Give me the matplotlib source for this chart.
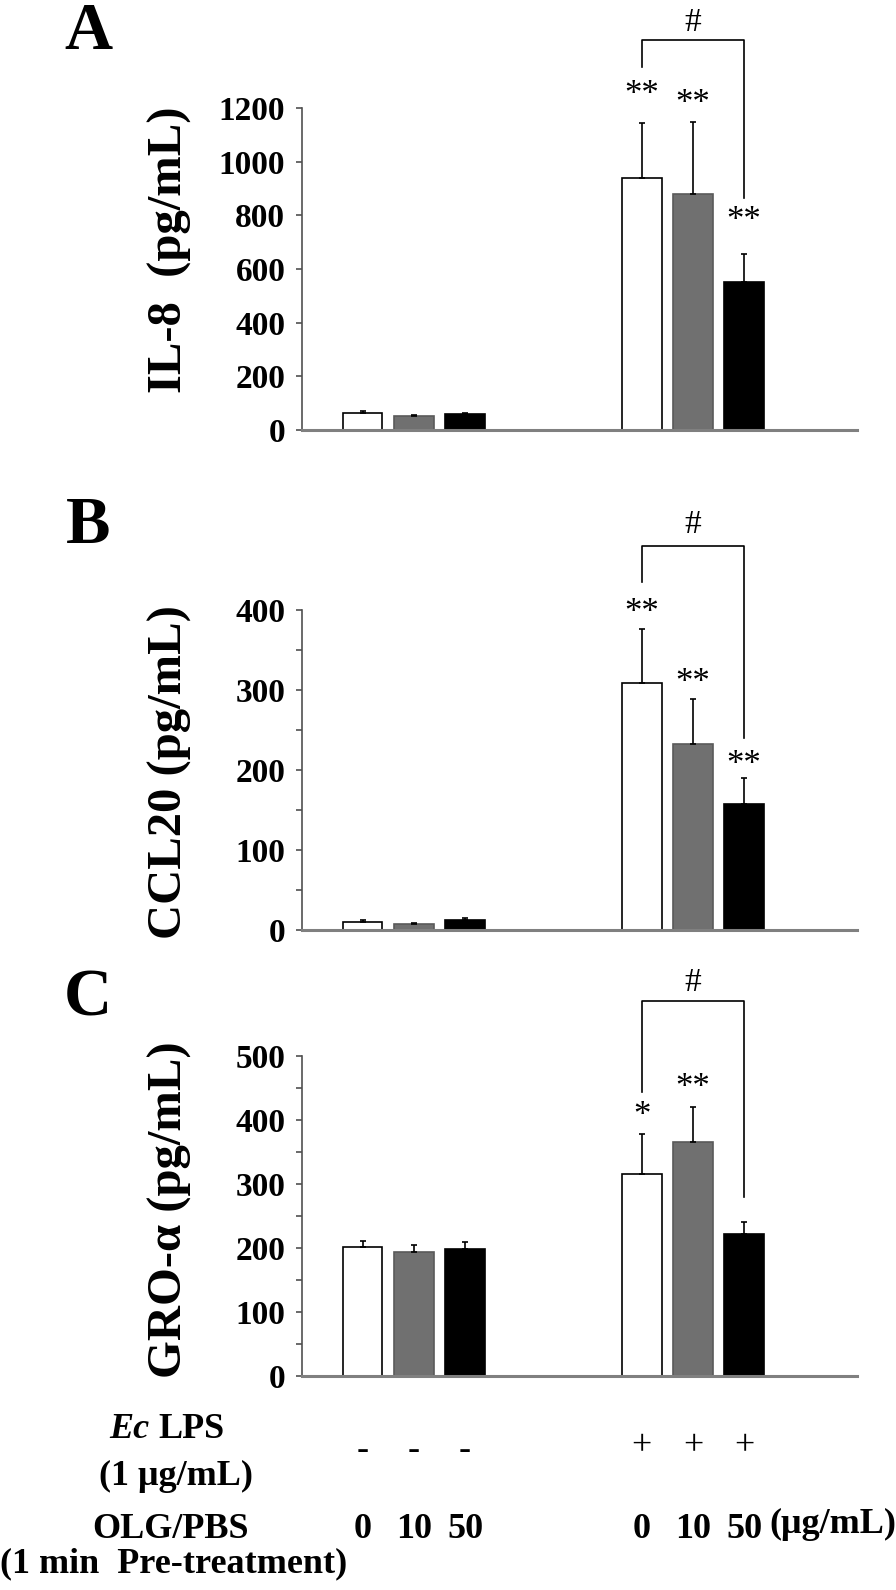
import numpy as np
import matplotlib
matplotlib.use("Agg")
import matplotlib.pyplot as plt
from matplotlib.ticker import MultipleLocator

plt.rcParams['font.family'] = ['Liberation Serif', 'DejaVu Serif']

# values: mean and upper error (SEM)
il8_mean = [62, 52, 60, 940, 880, 553]
il8_sem = [10, 4, 4, 203, 268, 102]
ccl20_mean = [10, 7, 12, 309, 233, 158]
ccl20_sem = [2, 2, 3, 67, 56, 32]
gro_mean = [202, 193, 198, 315, 366, 222]
gro_sem = [9, 11, 12, 63, 55, 18]

il8_stars = ['', '', '', '**', '**', '**']
ccl20_stars = ['', '', '', '**', '**', '**']
gro_stars = ['', '', '', '*', '**', '']

lps_signs = ['-', '-', '-', '+', '+', '+']
olg_doses = ['0', '10', '50', '0', '10', '50']

bar_colors = ['white', '#707070', 'black'] * 2
bar_edges = ['black', '#5a5a5a', 'black'] * 2

x = np.array([0, 1, 2, 5.46, 6.46, 7.46])
width = 0.77

W, H = 896, 1590
fig = plt.figure(figsize=(W / 100, H / 100), dpi=100)


def rect(top_px, bottom_px, left_px=302, right_px=857):
    return [left_px / W, 1 - bottom_px / H, (right_px - left_px) / W, (bottom_px - top_px) / H]


panels = [
    dict(rect=rect(108, 430), mean=il8_mean, sem=il8_sem, stars=il8_stars,
         star_y=[None, None, None, 1286, 1252, 816], ymax=1200, major=200, minor=None,
         ylabel='IL-8  (pg/mL)', label_y=250, letter='A', letter_y=49,
         bracket=(1453, 1354, 865), hash_y=1517),
    dict(rect=rect(610, 930), mean=ccl20_mean, sem=ccl20_sem, stars=ccl20_stars,
         star_y=[None, None, None, 409, 321, 219], ymax=400, major=100, minor=50,
         ylabel='CCL20 (pg/mL)', label_y=772, letter='B', letter_y=543,
         bracket=(480, 435, 240), hash_y=507),
    dict(rect=rect(1056, 1376), mean=gro_mean, sem=gro_sem, stars=gro_stars,
         star_y=[None, None, None, 421, 466, None], ymax=500, major=100, minor=50,
         ylabel='GRO-α (pg/mL)', label_y=1210, letter='C', letter_y=1016,
         bracket=(586, 444, 280), hash_y=615),
]

for p in panels:
    ax = fig.add_axes(p['rect'])
    ax.bar(x, p['mean'], width, color=bar_colors, edgecolor=bar_edges, linewidth=1.2, zorder=2)
    ax.errorbar(x, p['mean'], yerr=[np.zeros(6), p['sem']], fmt='none', ecolor='black',
                elinewidth=1.2, capsize=2.5, capthick=1.2, zorder=3)
    ax.set_xlim(-1.19, 9.67)
    ax.set_ylim(0, p['ymax'])
    ax.yaxis.set_major_locator(MultipleLocator(p['major']))
    if p['minor']:
        ax.yaxis.set_minor_locator(MultipleLocator(p['minor']))
    ax.set_xticks([])
    for s in ['top', 'right']:
        ax.spines[s].set_visible(False)
    ax.spines['bottom'].set_color('#808080')
    ax.spines['bottom'].set_linewidth(2.2)
    ax.spines['left'].set_color('#505050')
    ax.spines['left'].set_linewidth(1.2)
    ax.tick_params(axis='y', which='both', direction='out', length=4, width=1.2,
                   color='#505050', pad=8)
    for lab in ax.get_yticklabels():
        lab.set_fontsize(24)
        lab.set_fontweight('bold')

    # significance marks
    for xi, st, sy in zip(x, p['stars'], p['star_y']):
        if st:
            ax.annotate(st, xy=(xi, sy), xytext=(0, -7.5), textcoords='offset points',
                        ha='center', va='center', fontsize=25, annotation_clip=False)
    top, left_low, right_low = p['bracket']
    ax.plot([x[3], x[3], x[5], x[5]], [left_low, top, top, right_low], color='black',
            lw=1.2, clip_on=False)
    ax.text(x[4], p['hash_y'], '#', ha='center', va='center', fontsize=24, clip_on=False)

    fig.text(170 / W, 1 - p['label_y'] / H, p['ylabel'], rotation=90, ha='center',
             va='center', fontsize=35, fontweight='bold')
    fig.text(88 / W, 1 - p['letter_y'] / H, p['letter'], ha='center', va='baseline',
             fontsize=48, fontweight='bold')

# treatment rows under panel C
axc = fig.axes[-1]
to_fig = fig.transFigure.inverted()
for xi, sign, dose in zip(x, lps_signs, olg_doses):
    xf = to_fig.transform(axc.transData.transform((xi, 0)))[0]
    fig.text(xf, 1 - (1451 if sign == '-' else 1447) / H, sign, ha='center', va='center',
             fontsize=26)
    fig.text(xf, 1 - 1529 / H, dose, ha='center', va='center', fontsize=26, fontweight='bold')
fig.text(769 / W, 1 - 1524 / H, '(μg/mL)', ha='left', va='center', fontsize=26,
         fontweight='bold')

fig.text(149 / W, 1 - 1429 / H, 'Ec', ha='right', va='center', fontsize=26,
         fontweight='bold', fontstyle='italic')
fig.text(158 / W, 1 - 1429 / H, 'LPS', ha='left', va='center', fontsize=26, fontweight='bold')
fig.text(176 / W, 1 - 1476 / H, '(1 μg/mL)', ha='center', va='center', fontsize=26,
         fontweight='bold')
fig.text(170 / W, 1 - 1529 / H, 'OLG/PBS', ha='center', va='center', fontsize=26,
         fontweight='bold')
fig.text(174 / W, 1 - 1564 / H, '(1 min  Pre-treatment)', ha='center', va='center',
         fontsize=26, fontweight='bold')

fig.savefig('out.png', dpi=100)
